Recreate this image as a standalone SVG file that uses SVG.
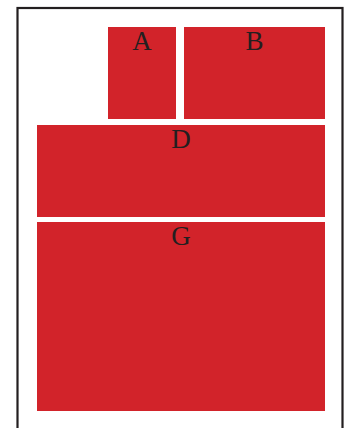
<svg xmlns="http://www.w3.org/2000/svg" width="347" height="428" viewBox="0 0 347 428">
<style>
.blk{fill:#d2232a}
.lbl{font-family:"Liberation Serif","Times New Roman",serif;font-size:27px;fill:#231f20;text-anchor:middle}
.frame{fill:none;stroke:#231f20;stroke-width:2.2}
</style>
<rect width="347" height="428" fill="#ffffff"/>
<rect class="frame" x="17.5" y="8" width="325" height="440"/>
<g id="A"><rect class="blk" x="108" y="27" width="68" height="92"/><text class="lbl" x="142" y="50">A</text></g>
<g id="B"><rect class="blk" x="184" y="27" width="141" height="92"/><text class="lbl" x="254.5" y="50">B</text></g>
<g id="D"><rect class="blk" x="37" y="125" width="288" height="92"/><text class="lbl" x="181" y="148">D</text></g>
<g id="G"><rect class="blk" x="37" y="222" width="288" height="189"/><text class="lbl" x="181" y="245">G</text></g>
<g id="connectors"></g>
</svg>
